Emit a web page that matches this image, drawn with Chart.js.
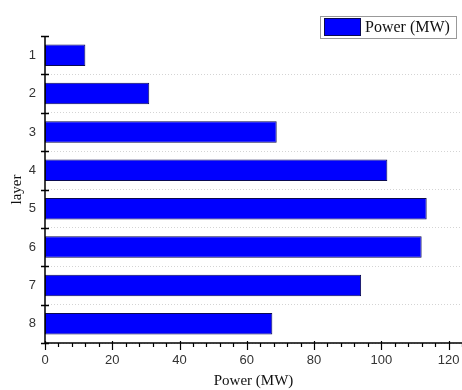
<!DOCTYPE html>
<html>
<head>
<meta charset="utf-8">
<script src="https://cdn.jsdelivr.net/npm/chart.js@4"></script>
<style>
  html, body { margin: 0; padding: 0; background: #fff; }
  #wrap { position: relative; width: 462px; height: 390px; }
</style>
</head>
<body>
<div id="wrap"><canvas id="chart" width="462" height="390"></canvas></div>
<script>
// data
const layers     = ["1", "2", "3", "4", "5", "6", "7", "8"];
const powerMW    = [12, 31, 68.9, 101.8, 113.5, 112, 94, 67.6];
const seriesName = "Power (MW)";
const xTicks     = [0, 20, 40, 60, 80, 100, 120];

const AXIS_L = 45, AXIS_T = 36, AXIS_B = 343;

// tick marks, axis lines and the framed legend, drawn on top
const decor = {
  id: "decor",
  afterDraw(chart) {
    const c = chart.ctx, x = chart.scales.x, y = chart.scales.y;
    c.save();
    c.strokeStyle = "#000";
    c.lineWidth = 1.5;
    c.beginPath();
    c.moveTo(x.left, y.top); c.lineTo(x.left, y.bottom);
    c.moveTo(x.left, y.bottom); c.lineTo(x.right, y.bottom);
    c.stroke();

    // y boundary ticks (cross the axis)
    for (let i = 0; i <= layers.length; i++) {
      const py = Math.round(y.getPixelForValue(i - 0.5)) + 0.5;
      c.beginPath(); c.moveTo(x.left - 4, py); c.lineTo(x.left + 4, py); c.stroke();
    }
    // x major / minor ticks
    c.lineWidth = 1.2;
    for (let v = 0; v <= x.max; v += 4) {
      const px = Math.round(x.getPixelForValue(v)) + 0.5;
      const major = v % 20 === 0;
      c.beginPath();
      c.moveTo(px, y.bottom - (major ? 2 : 0));
      c.lineTo(px, y.bottom + (major ? 7 : 4));
      c.stroke();
    }

    // legend
    const ds = chart.data.datasets[0];
    c.lineWidth = 1;
    c.strokeStyle = "#999";
    c.strokeRect(320.5, 16.5, 136, 22);
    c.fillStyle = ds.backgroundColor;
    c.fillRect(324, 18, 37, 18);
    c.strokeStyle = ds.borderColor;
    c.strokeRect(324.5, 18.5, 36, 17);
    c.fillStyle = "#111";
    c.font = "16px 'Liberation Serif', 'Times New Roman', serif";
    c.textBaseline = "middle";
    c.fillText(ds.label, 365, 28);
    c.restore();
  }
};

new Chart(document.getElementById("chart"), {
  type: "bar",
  data: {
    labels: layers,
    datasets: [{
      label: seriesName,
      data: powerMW,
      backgroundColor: "#0000ff",
      borderColor: "#0a0a50",
      borderWidth: 1,
      borderSkipped: false,
      categoryPercentage: 1,
      barPercentage: 0.56
    }]
  },
  options: {
    indexAxis: "y",
    responsive: false,
    animation: false,
    layout: { padding: { top: AXIS_T, right: 0, left: 0, bottom: 0 } },
    plugins: { legend: { display: false }, tooltip: { enabled: false } },
    scales: {
      x: {
        type: "linear",
        min: 0, max: 124,
        afterBuildTicks: s => { s.ticks = xTicks.map(v => ({ value: v })); },
        afterFit: s => { s.height = 390 - AXIS_B; s.paddingLeft = 0; s.paddingRight = 0; },
        grid: { display: false, drawTicks: false },
        border: { display: false },
        ticks: {
          padding: 10,
          color: "#333",
          font: { family: "'Liberation Sans', Arial, sans-serif", size: 13 }
        },
        title: {
          display: true,
          text: seriesName,
          color: "#111",
          padding: { top: 2, bottom: 0 },
          font: { family: "'Liberation Serif', 'Times New Roman', serif", size: 15 }
        }
      },
      y: {
        type: "category",
        offset: true,
        afterFit: s => { s.width = AXIS_L; s.paddingTop = 0; s.paddingBottom = 0; },
        grid: {
          offset: true,
          drawTicks: false,
          color: ctx => (ctx.index === 0 || ctx.index === layers.length) ? "rgba(0,0,0,0)" : "#d4d4d4",
          lineWidth: 1
        },
        border: { display: false, dash: [1, 2] },
        ticks: {
          padding: 9,
          color: "#333",
          font: { family: "'Liberation Sans', Arial, sans-serif", size: 13 }
        },
        title: {
          display: true,
          text: "layer",
          color: "#111",
          padding: { top: 8, bottom: 0 },
          font: { family: "'Liberation Serif', 'Times New Roman', serif", size: 15 }
        }
      }
    }
  },
  plugins: [decor]
});
</script>
</body>
</html>
